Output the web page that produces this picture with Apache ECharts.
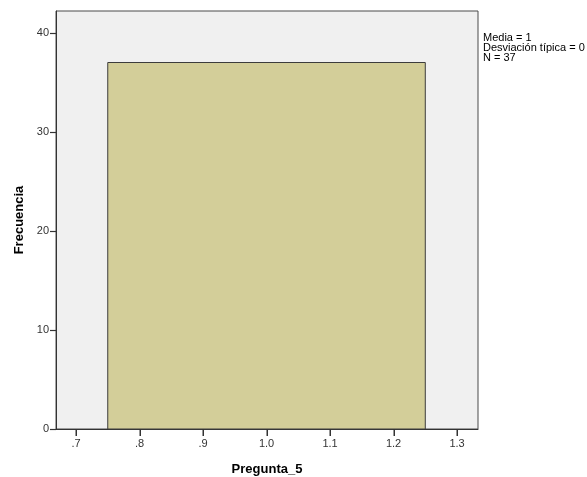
<!DOCTYPE html>
<html><head><meta charset="utf-8">
<script src="https://cdn.jsdelivr.net/npm/echarts@6/dist/echarts.min.js"></script>
<style>html,body{margin:0;padding:0;background:#fff}#c{width:587px;height:477px}</style>
</head><body><div id="c"></div>
<script>
var binStart = [0.75];
var binEnd = [1.25];
var freq = [37];
var xTicks = [0.7, 0.8, 0.9, 1.0, 1.1, 1.2, 1.3];
var xTickLabels = ['.7', '.8', '.9', '1.0', '1.1', '1.2', '1.3'];
var yTicks = [0, 10, 20, 30, 40];
var statsLines = ['Media = 1', 'Desviación típica = 0', 'N = 37'];

var data = binStart.map(function (s, i) { return [s, binEnd[i], freq[i]]; });
var chart = echarts.init(document.getElementById('c'));
var font = 'Liberation Sans, Arial, sans-serif';
chart.setOption({
  animation: false,
  grid: {left: 56, top: 11, right: 109, bottom: 48, show: true, backgroundColor: '#f0f0f0', borderColor: '#4a4a4a', borderWidth: 1, containLabel: false, outerBoundsMode: 'none'},
  xAxis: {
    type: 'value', min: 0.6685, max: 1.333,
    name: 'Pregunta_5', nameLocation: 'middle', nameGap: 34,
    nameTextStyle: {fontFamily: font, fontSize: 13, fontWeight: 'bold', color: '#000'},
    axisLine: {show: true, lineStyle: {color: '#333'}},
    axisTick: {show: false},
    axisLabel: {fontFamily: font, fontSize: 11, color: '#333', margin: 9, customValues: xTicks,
      formatter: function (v) { var i = xTicks.findIndex(function (t) { return Math.abs(t - v) < 1e-6; }); return i >= 0 ? xTickLabels[i] : ''; }},
    splitLine: {show: false}
  },
  yAxis: {
    type: 'value', min: 0, max: 42.2,
    name: 'Frecuencia', nameLocation: 'middle', nameGap: 30,
    nameTextStyle: {fontFamily: font, fontSize: 13, fontWeight: 'bold', color: '#000'},
    axisLine: {show: true, lineStyle: {color: '#333'}},
    axisTick: {show: true, inside: false, length: 6, lineStyle: {color: '#333', width: 1.2}, customValues: yTicks},
    axisLabel: {fontFamily: font, fontSize: 11, color: '#333', margin: 7, customValues: yTicks},
    splitLine: {show: false}
  },
  series: [{
    type: 'custom',
    data: data,
    encode: {x: [0, 1], y: 2},
    renderItem: function (params, api) {
      var p1 = api.coord([api.value(0), api.value(2)]);
      var p2 = api.coord([api.value(1), 0]);
      return {type: 'rect', shape: {x: p1[0], y: p1[1], width: p2[0] - p1[0], height: p2[1] - p1[1]},
        style: {fill: '#d3ce99', stroke: '#3c3c3c', lineWidth: 1}};
    }
  }, {
    type: 'custom',
    clip: false,
    silent: true,
    z: 10,
    data: xTicks.map(function (v) { return [v, 0]; }),
    encode: {x: 0, y: 1},
    renderItem: function (params, api) {
      var p = api.coord([api.value(0), api.value(1)]);
      return {type: 'rect', shape: {x: Math.round(p[0]) - 0.5, y: p[1], width: 1.5, height: 7},
        style: {fill: '#333'}};
    }
  }],
  graphic: [{
    type: 'text', left: 483, top: 32,
    style: {text: statsLines.join('\n'), fontFamily: font, fontSize: 11, lineHeight: 10, fill: '#000'}
  }]
});
</script></body></html>
